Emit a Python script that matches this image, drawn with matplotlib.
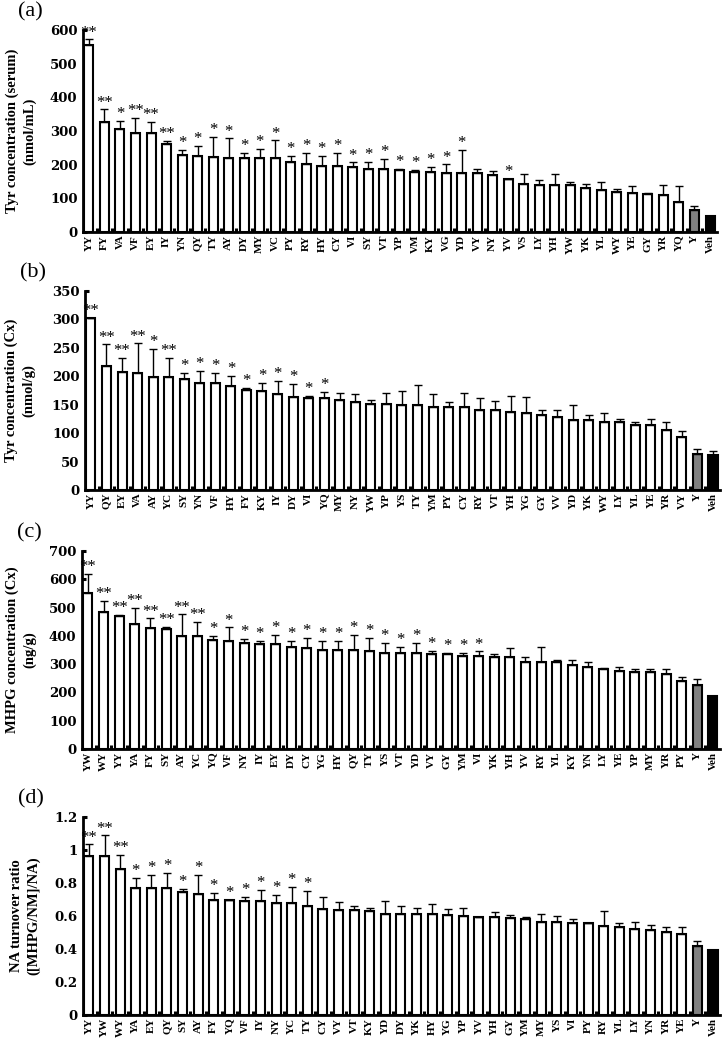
import numpy as np
import matplotlib
matplotlib.use("Agg")
import matplotlib.pyplot as plt
from matplotlib.ticker import FuncFormatter

# ---- data ----
labels_a = ["YY", "FY", "VA", "VF", "EY", "IY", "YN", "QY", "TY", "AY", "DY", "MY", "VC", "PY",
            "RY", "HY", "CY", "VI", "SY", "VT", "YP", "VM", "KY", "VG", "YD", "VY", "NY", "YV",
            "VS", "LY", "YH", "YW", "YK", "YL", "WY", "YE", "GY", "YR", "YQ", "Y", "Veh"]
mean_a = [555, 327, 307, 295, 295, 261, 230, 227, 223, 221, 221, 221, 221, 208,
          201, 195, 195, 192, 188, 188, 184, 179, 179, 176, 176, 176, 169, 156,
          144, 141, 141, 141, 132, 126, 119, 116, 114, 110, 88, 64, 47]
err_a = [17, 37, 23, 44, 31, 10, 13, 28, 60, 57, 15, 26, 51, 19,
         33, 32, 41, 15, 20, 30, 3, 6, 14, 25, 67, 10, 13, 2,
         27, 13, 30, 7, 10, 22, 10, 20, 2, 29, 48, 12, 0]
sig_a = ["**", "**", "*", "**", "**", "**", "*", "*", "*", "*", "*", "*", "*", "*",
         "*", "*", "*", "*", "*", "*", "*", "*", "*", "*", "*", "", "", "*",
         "", "", "", "", "", "", "", "", "", "", "", "", ""]

labels_b = ["YY", "QY", "EY", "VA", "AY", "YC", "SY", "YN", "VF", "HY", "FY", "KY", "IY", "DY",
            "VI", "YQ", "MY", "NY", "YW", "YP", "YS", "TY", "YM", "PY", "CY", "RY", "VT", "YH",
            "YG", "GY", "VV", "YD", "YK", "WY", "LY", "YL", "YE", "YR", "VY", "Y", "Veh"]
mean_b = [302, 218, 208, 206, 199, 198, 196, 188, 188, 183, 176, 174, 169, 164,
          161, 161, 158, 155, 151, 151, 150, 150, 146, 146, 146, 140, 140, 138,
          136, 132, 128, 123, 123, 119, 119, 114, 114, 105, 94, 64, 62]
err_b = [0, 38, 24, 52, 49, 35, 10, 22, 18, 17, 4, 14, 23, 22,
         4, 12, 13, 13, 7, 19, 25, 34, 22, 9, 24, 21, 16, 28,
         28, 9, 12, 27, 9, 17, 5, 5, 11, 14, 9, 8, 6]
sig_b = ["**", "**", "**", "**", "*", "**", "*", "*", "*", "*", "*", "*", "*", "*",
         "*", "*", "", "", "", "", "", "", "", "", "", "", "", "",
         "", "", "", "", "", "", "", "", "", "", "", "", ""]

labels_c = ["YW", "WY", "YY", "YA", "FY", "SY", "AY", "YC", "YQ", "VF", "NY", "IY", "EY", "DY",
            "CY", "YG", "HY", "QY", "TY", "YS", "VT", "YD", "VY", "GY", "YM", "VI", "YK", "YH",
            "YV", "RY", "YL", "KY", "YN", "LY", "YE", "YP", "MY", "YR", "PY", "Y", "Veh"]
mean_c = [552, 483, 470, 442, 427, 424, 400, 400, 385, 382, 376, 371, 371, 361,
          357, 350, 350, 350, 345, 338, 338, 338, 335, 336, 330, 330, 327, 327,
          309, 309, 306, 297, 291, 283, 277, 271, 271, 264, 242, 227, 186]
err_c = [68, 41, 3, 57, 35, 8, 76, 50, 15, 48, 12, 12, 32, 22,
         35, 33, 31, 53, 47, 36, 22, 36, 11, 3, 11, 15, 9, 29,
         18, 53, 7, 16, 18, 2, 14, 12, 12, 19, 11, 20, 0]
sig_c = ["**", "**", "**", "**", "**", "**", "**", "**", "*", "*", "*", "*", "*", "*",
         "*", "*", "*", "*", "*", "*", "*", "*", "*", "*", "*", "*", "", "",
         "", "", "", "", "", "", "", "", "", "", "", "", ""]

labels_d = ["YY", "YW", "WY", "YA", "EY", "QY", "SY", "AY", "FY", "YQ", "VF", "IY", "NY", "YC",
            "TY", "CY", "VY", "VT", "KY", "YD", "DY", "YK", "HY", "YG", "YP", "YV", "YH", "GY",
            "YM", "MY", "YS", "VI", "PY", "RY", "YL", "LY", "YN", "YR", "YE", "Y", "Veh"]
mean_d = [0.962, 0.962, 0.887, 0.772, 0.772, 0.772, 0.746, 0.736, 0.696, 0.696, 0.690, 0.690, 0.681, 0.679,
          0.659, 0.645, 0.639, 0.639, 0.628, 0.612, 0.612, 0.612, 0.612, 0.606, 0.600, 0.594, 0.594, 0.586,
          0.580, 0.565, 0.565, 0.559, 0.555, 0.541, 0.535, 0.519, 0.515, 0.503, 0.489, 0.420, 0.394]
err_d = [0.072, 0.127, 0.081, 0.061, 0.079, 0.091, 0.020, 0.115, 0.044, 0.004, 0.026, 0.066, 0.049, 0.097,
         0.091, 0.071, 0.046, 0.020, 0.020, 0.078, 0.050, 0.034, 0.058, 0.034, 0.046, 0.002, 0.032, 0.020,
         0.014, 0.047, 0.035, 0.021, 0.003, 0.091, 0.020, 0.042, 0.030, 0.028, 0.042, 0.031, 0.0]
sig_d = ["**", "**", "**", "*", "*", "*", "*", "*", "*", "*", "*", "*", "*", "*",
         "*", "", "", "", "", "", "", "", "", "", "", "", "", "",
         "", "", "", "", "", "", "", "", "", "", "", "", ""]

W, H = 726, 1043
SERIF = ["Liberation Serif", "DejaVu Serif"]
WIDE_SERIF = ["DejaVu Serif"]


def bar_colors(labels):
    cols = []
    for lab in labels:
        if lab == "Y":
            cols.append("#808080")
        elif lab == "Veh":
            cols.append("black")
        else:
            cols.append("white")
    return cols


def draw_panel(fig, box, tag, labels, vals, errs, sig, ymax, ystep, ylabel, label_x):
    """box = (left px, zero-line px, right px, top px) in figure pixels from top-left"""
    l, y0, r, t = box
    ax = fig.add_axes([l / W, 1 - y0 / H, (r - l) / W, (y0 - t) / H])
    x = np.arange(len(labels))
    ax.bar(x, vals, width=0.58, color=bar_colors(labels), edgecolor="black",
           linewidth=1.5, zorder=2)
    ax.errorbar(x, vals, yerr=[np.zeros(len(errs)), errs], fmt="none", ecolor="black",
                elinewidth=1.0, capsize=2.6, capthick=1.0, zorder=3)
    off = -ymax * 0.006
    for xi, v, e, s in zip(x, vals, errs, sig):
        if s:
            ax.text(xi, v + e + off, s, ha="center", va="bottom", fontsize=12,
                    family=SERIF, zorder=4)
    ax.set_xlim(-0.38, len(labels) - 0.55)
    ax.set_ylim(0, ymax)
    ax.set_yticks(np.arange(0, ymax + ystep / 2, ystep))
    ax.yaxis.set_major_formatter(FuncFormatter(lambda v, p: f"{v:g}"))
    ax.set_xticks(x)
    ax.set_xticklabels(labels, rotation=90, fontsize=8, fontweight="bold", family=SERIF)
    ax.set_xticks(x[:-1] + 0.5, minor=True)
    for lab in ax.get_yticklabels():
        lab.set_fontweight("bold")
        lab.set_family(WIDE_SERIF)
        lab.set_fontsize(9.5)
    ax.tick_params(axis="x", which="major", length=0, pad=2)
    ax.tick_params(axis="x", which="minor", direction="in", length=3, width=2.2)
    ax.tick_params(axis="y", direction="in", length=3, width=2.2, pad=4)
    for side in ["top", "right"]:
        ax.spines[side].set_visible(False)
    for side in ["left", "bottom"]:
        ax.spines[side].set_linewidth(2.0)
    ax.set_ylabel(ylabel, fontsize=10.5, fontweight="bold", family=SERIF,
                  linespacing=1.3)
    ax.yaxis.set_label_coords((label_x - l) / (r - l), 0.5)
    fig.text((l - 65) / W, 1 - (t - 18) / H, tag, fontsize=16, family=SERIF,
             ha="left", va="center")
    return ax


fig = plt.figure(figsize=(W / 100, H / 100), dpi=100)

draw_panel(fig, (83, 232, 717, 30), "(a)", labels_a, mean_a, err_a, sig_a, 600, 100,
           "Tyr concentration (serum)\n(nmol/mL)", 36)
draw_panel(fig, (85, 490, 720, 291), "(b)", labels_b, mean_b, err_b, sig_b, 350, 50,
           "Tyr concentration (Cx)\n(nmol/g)", 35)
draw_panel(fig, (82, 749, 720, 551), "(c)", labels_c, mean_c, err_c, sig_c, 700, 100,
           "MHPG concentration (Cx)\n(ng/g)", 36)
draw_panel(fig, (83, 1015, 720, 817), "(d)", labels_d, mean_d, err_d, sig_d, 1.2, 0.2,
           "NA turnover ratio\n([MHPG/NM]/NA)", 40)

fig.savefig("out.png", dpi=100)
